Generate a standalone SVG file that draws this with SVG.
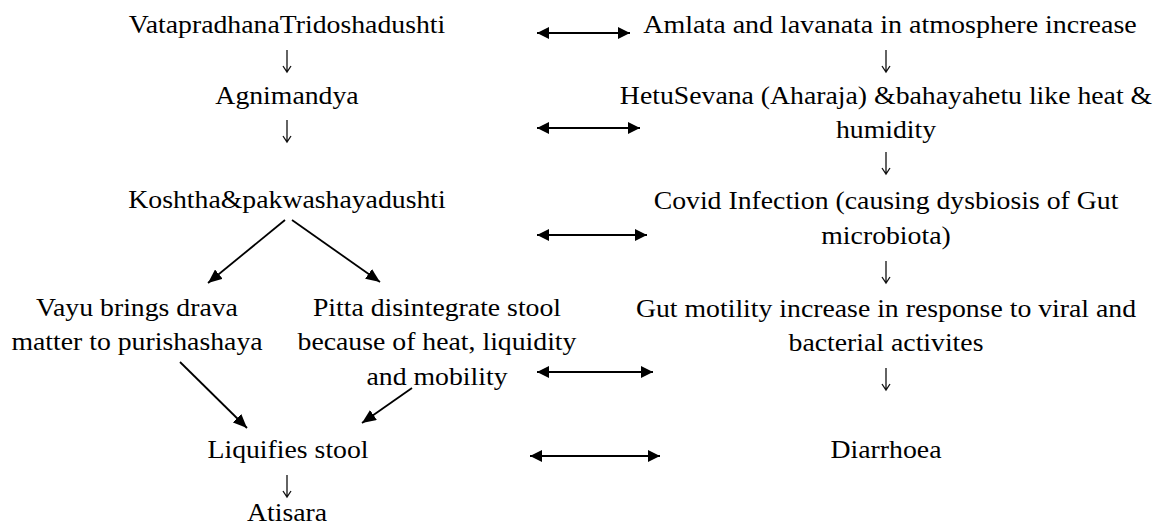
<svg xmlns="http://www.w3.org/2000/svg" width="1162" height="528" viewBox="0 0 1162 528">
<style>
text{font-size:25px;fill:#000;text-anchor:middle}
.c line{stroke:#000;stroke-width:1.8;fill:none}
.c line.dbl{stroke-width:2.2}
.c path.down{stroke:#111;stroke-width:1.3;fill:none}
</style>
<defs>
<marker id="ah" markerUnits="userSpaceOnUse" viewBox="0 0 14 12" refX="14" refY="6" markerWidth="14" markerHeight="12" orient="auto-start-reverse">
<path d="M0,0 L14,6 L0,12 z" fill="#000"/>
</marker>
<marker id="ah2" markerUnits="userSpaceOnUse" viewBox="0 0 12 12" refX="12" refY="6" markerWidth="12" markerHeight="12" orient="auto-start-reverse">
<path d="M0,0 L12,6 L0,12 z" fill="#000"/>
</marker>
</defs>
<rect width="1162" height="528" fill="#fff"/>
<g font-family="Liberation Serif, Times New Roman, serif">
<g id="n1"><text transform="translate(287 33) scale(1.11 1)">VatapradhanaTridoshadushti</text></g>
<g id="n2"><text transform="translate(287 104) scale(1.11 1)">Agnimandya</text></g>
<g id="n3"><text transform="translate(287 208) scale(1.11 1)">Koshtha&amp;pakwashayadushti</text></g>
<g id="n4"><text transform="translate(137 316) scale(1.11 1)">Vayu brings drava</text><text transform="translate(137 350) scale(1.11 1)">matter to purishashaya</text></g>
<g id="n5"><text transform="translate(437 316) scale(1.11 1)">Pitta disintegrate stool</text><text transform="translate(437 350) scale(1.11 1)">because of heat, liquidity</text><text transform="translate(437 385) scale(1.11 1)">and mobility</text></g>
<g id="n6"><text transform="translate(288 458) scale(1.11 1)">Liquifies stool</text></g>
<g id="n7"><text transform="translate(287 521) scale(1.11 1)">Atisara</text></g>
<g id="r1"><text transform="translate(890 33) scale(1.12 1)">Amlata and lavanata in atmosphere increase</text></g>
<g id="r2"><text transform="translate(886 104) scale(1.11 1)">HetuSevana (Aharaja) &amp;bahayahetu like heat &amp;</text><text transform="translate(886 138) scale(1.11 1)">humidity</text></g>
<g id="r3"><text transform="translate(886 209) scale(1.11 1)">Covid Infection (causing dysbiosis of Gut</text><text transform="translate(886 244) scale(1.11 1)">microbiota)</text></g>
<g id="r4"><text transform="translate(886 317) scale(1.11 1)">Gut motility increase in response to viral and</text><text transform="translate(886 351) scale(1.11 1)">bacterial activites</text></g>
<g id="r5"><text transform="translate(886 458) scale(1.11 1)">Diarrhoea</text></g>
<g id="connectors" class="c">
<path class="down" d="M287,50 V72 M283,66 L287,72 L291,66"/>
<path class="down" d="M287,120 V142 M283,136 L287,142 L291,136"/>
<path class="down" d="M287,475 V497 M283,491 L287,497 L291,491"/>
<path class="down" d="M886,50 V72 M882,66 L886,72 L890,66"/>
<path class="down" d="M886,152 V174 M882,168 L886,174 L890,168"/>
<path class="down" d="M886,261 V283 M882,277 L886,283 L890,277"/>
<path class="down" d="M886,368 V390 M882,384 L886,390 L890,384"/>
<line x1="285" y1="220" x2="208" y2="283" marker-end="url(#ah)"/>
<line x1="292" y1="220" x2="380" y2="282" marker-end="url(#ah)"/>
<line x1="180" y1="362" x2="247" y2="428" marker-end="url(#ah)"/>
<line x1="412" y1="388" x2="362" y2="423" marker-end="url(#ah)"/>
<line class="dbl" x1="537" y1="33" x2="630" y2="33" marker-start="url(#ah2)" marker-end="url(#ah2)"/>
<line class="dbl" x1="537" y1="128" x2="640" y2="128" marker-start="url(#ah2)" marker-end="url(#ah2)"/>
<line class="dbl" x1="537" y1="235" x2="647" y2="235" marker-start="url(#ah2)" marker-end="url(#ah2)"/>
<line class="dbl" x1="537" y1="372" x2="653" y2="372" marker-start="url(#ah2)" marker-end="url(#ah2)"/>
<line class="dbl" x1="530" y1="456" x2="660" y2="456" marker-start="url(#ah2)" marker-end="url(#ah2)"/>
</g>
</g>
</svg>
